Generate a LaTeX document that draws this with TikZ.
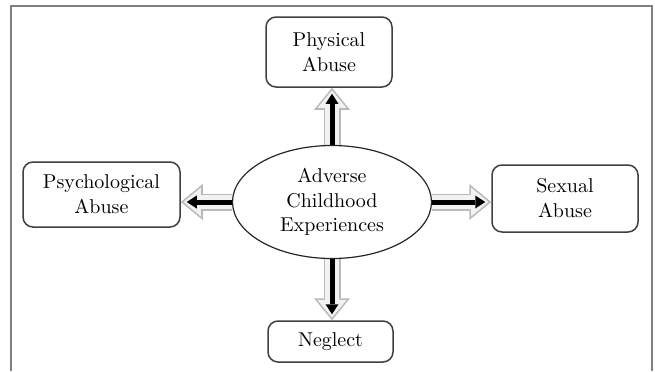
\documentclass[tikz,border=0pt]{standalone}
\usetikzlibrary{shapes.geometric,arrows.meta}
\pgfdeclarelayer{bg}
\pgfsetlayers{bg,main}
\begin{document}
\begin{tikzpicture}[x=0.5pt,y=-0.5pt,
  box/.style={draw=black!75, line width=0.75pt, rounded corners=5pt, fill=white,
    align=center, inner sep=0pt, font=\fontsize{10}{12.5}\selectfont},
  core/.style={ellipse, draw=black!85, line width=0.6pt, fill=white, align=center,
    inner sep=0pt, font=\fontsize{10}{12.3}\selectfont},
  blockedge/.style={line width=8.5pt, draw=gray!55,
    -{Triangle[width=18pt,length=11pt,line width=0pt]}},
  blockfill/.style={line width=6.8pt, draw=gray!10, shorten >=1.3pt,
    -{Triangle[width=14.5pt,length=8.8pt,line width=0pt]}},
  blackarrow/.style={line width=2.5pt, draw=black, shorten >=3pt,
    -{Triangle[width=6.5pt,length=5pt,line width=0pt]}}]
\useasboundingbox (0,0) rectangle (655,371);
\draw[gray, line width=1pt] (11,371) -- (11,6) -- (652,6) -- (652,371);

\node[box, minimum width=63pt, minimum height=35pt] (phys) at (329,52) {Physical\\Abuse};
\node[box, minimum width=78.5pt, minimum height=32.5pt] (psych) at (101.5,194.5) {Psychological\\Abuse};
\node[box, minimum width=73pt, minimum height=33.5pt] (sex) at (565,198.5) {Sexual\\Abuse};
\node[box, minimum width=62.5pt, minimum height=20.5pt] (neg) at (330.5,341.5) {Neglect};
\node[core, minimum width=99.5pt, minimum height=56.5pt] (ace) at (332,202) {Adverse\\Childhood\\Experiences};

\begin{pgfonlayer}{bg}
  \foreach \s/\t in {ace.north/ace.north |- phys.south,
                     ace.south/ace.south |- neg.north,
                     ace.west/ace.west -| psych.east,
                     ace.east/ace.east -| sex.west} {
    \draw[blockedge] (\s) -- (\t);
    \draw[blockfill] (\s) -- (\t);
    \draw[blackarrow] (\s) -- (\t);
  }
\end{pgfonlayer}
\end{tikzpicture}
\end{document}
